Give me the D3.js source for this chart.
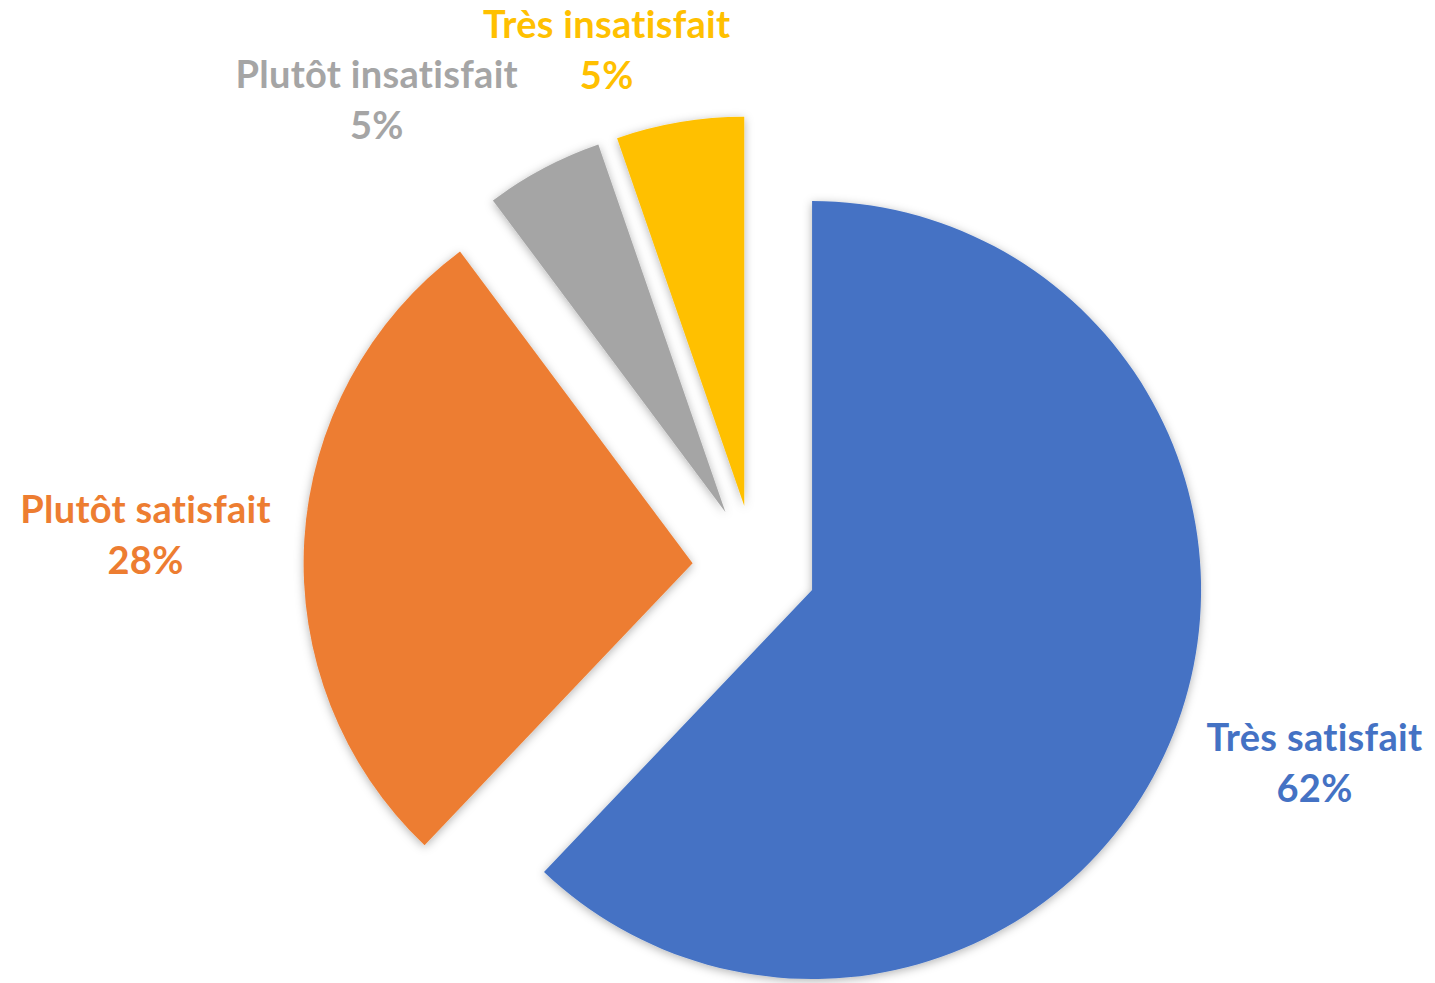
<!DOCTYPE html>
<html>
<head>
<meta charset="utf-8">
<script src="https://cdn.jsdelivr.net/npm/d3@7"></script>
<style>
  html, body { margin: 0; padding: 0; background: #ffffff; }
  svg { display: block; }
</style>
</head>
<body>
<svg id="chart" width="1435" height="983"></svg>
<script>
// ---- data ----
const categories = ["Très satisfait", "Plutôt satisfait", "Plutôt insatisfait", "Très insatisfait"];
const values = [62.1, 27.7, 4.9, 5.3];
const colors = ["#4472C4", "#ED7D31", "#A5A5A5", "#FFC000"];

// ---- layout (kept separate from data) ----
const W = 1435, H = 983;
const cx = 754.5, cy = 567;
const radius = 389;
const explode = 62;
const labelRadius = 540;
const labelNudge = [[1, -39], [-8, -8], [-96, 53], [-48, 65]];
const lineGap = 51;
const fontSize = 38;

const svg = d3.select("#chart");

const defs = svg.append("defs");
const f = defs.append("filter").attr("id", "shadow")
  .attr("x", "-20%").attr("y", "-20%").attr("width", "140%").attr("height", "140%");
f.append("feDropShadow").attr("dx", 0).attr("dy", 2).attr("stdDeviation", 5)
  .attr("flood-color", "#000").attr("flood-opacity", 0.3);

const data = categories.map((c, i) => ({ name: c, value: values[i], color: colors[i] }));
const total = d3.sum(values);

const pie = d3.pie().value(d => d.value).sort(null);
const arcs = pie(data);
const arc = d3.arc().innerRadius(0).outerRadius(radius);

const g = svg.append("g").attr("transform", `translate(${cx},${cy})`);

arcs.forEach((a, i) => {
  const mid = (a.startAngle + a.endAngle) / 2;
  a.ox = Math.sin(mid) * explode;
  a.oy = -Math.cos(mid) * explode;
  a.mid = mid;
});

g.selectAll("path.slice")
  .data(arcs)
  .join("path")
  .attr("class", "slice")
  .attr("d", arc)
  .attr("fill", d => d.data.color)
  .attr("filter", "url(#shadow)")
  .attr("transform", d => `translate(${d.ox},${d.oy})`);

const fmt = v => Math.round(v / total * 100) + "%";

const labels = g.selectAll("text.lbl")
  .data(arcs)
  .join("text")
  .attr("class", "lbl")
  .attr("text-anchor", "middle")
  .attr("font-family", "Lato, 'Open Sans', sans-serif")
  .attr("font-weight", 700)
  .attr("font-size", fontSize)
  .attr("letter-spacing", 0.3)
  .attr("fill", d => d.data.color)
  .attr("transform", (d, i) => {
    const x = d.ox + Math.sin(d.mid) * labelRadius + labelNudge[i][0];
    const y = d.oy - Math.cos(d.mid) * labelRadius + labelNudge[i][1];
    return `translate(${x},${y})`;
  });

labels.append("tspan").attr("x", 0).attr("y", 0).text(d => d.data.name);
labels.append("tspan").attr("x", 0).attr("y", lineGap).text(d => fmt(d.data.value));
</script>
</body>
</html>
